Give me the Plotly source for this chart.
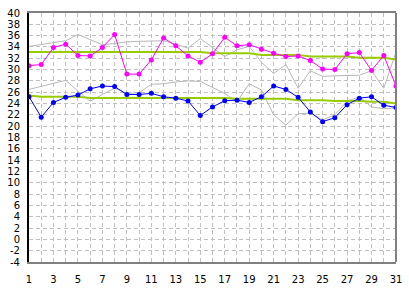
import plotly.graph_objects as go

days = list(range(1, 32))

high = [30.7, 30.9, 33.9, 34.5, 32.5, 32.4, 33.9, 36.2, 29.2, 29.2,
        31.7, 35.6, 34.2, 32.4, 31.3, 32.8, 35.7, 34.2, 34.4, 33.6,
        32.9, 32.3, 32.4, 31.6, 30.1, 30.0, 32.8, 33.0, 29.85, 32.5, 27.1]

low = [25.2, 21.6, 24.2, 25.1, 25.5, 26.6, 27.1, 27.0, 25.6, 25.6,
       25.8, 25.2, 24.95, 24.45, 21.9, 23.4, 24.5, 24.6, 24.2, 25.2,
       27.1, 26.5, 25.1, 22.5, 20.8, 21.5, 23.8, 24.95, 25.2, 23.7, 23.3]

high_normal = [33.1] * 15 + [32.9] * 4 + [32.6] * 4 + [32.3] * 4 + [32.1] * 3 + [31.8]
low_normal = [25.4] + [25.2] * 4 + [25.0] * 12 + [24.85] * 5 + [24.6] * 3 + [24.45] * 3 + [24.3] * 2 + [24.0]

gray_high = [34.1, 34.4, 34.7, 35.1, 36.2, 35.3, 34.4, 34.6, 34.9, 35.0,
             35.1, 35.1, 34.5, 33.8, 35.5, 33.9, 32.3, 33.5, 34.1, 31.3,
             29.3, 30.9, 26.7, 29.8, 28.8, 28.9, 28.9, 29.0, 29.8, 26.7, 33.1]

gray_low = [26.5, 27.0, 27.6, 28.1, 26.2, 24.4, 25.6, 26.7, 25.8, 25.9,
            27.4, 27.5, 27.8, 28.0, 27.9, 26.8, 25.8, 24.3, 27.5, 26.4,
            22.0, 20.2, 22.2, 22.3, 21.1, 22.0, 24.4, 25.2, 23.4, 23.1, 23.2]

y_ticks = list(range(-4, 41, 2))
x_ticks = list(range(1, 32, 2))

GRAY = "#c0c0c0"
fig = go.Figure()
for g in (gray_high, gray_low):
    fig.add_trace(go.Scatter(x=days, y=g, mode="lines",
                             line=dict(color="#b8b8b8", width=1), hoverinfo="skip"))
for n in (high_normal, low_normal):
    fig.add_trace(go.Scatter(x=days, y=n, mode="lines",
                             line=dict(color="#99cc00", width=2), hoverinfo="skip"))
fig.add_trace(go.Scatter(x=days, y=high, mode="lines+markers",
                         line=dict(color="#ff00ff", width=1),
                         marker=dict(color="#ff00ff", size=5, symbol="circle")))
fig.add_trace(go.Scatter(x=days, y=low, mode="lines+markers",
                         line=dict(color="#0000ff", width=1),
                         marker=dict(color="#0000ff", size=5, symbol="circle")))

fig.update_layout(
    width=409, height=292,
    margin=dict(l=28, r=9, t=7, b=22),
    paper_bgcolor="white", plot_bgcolor="white",
    showlegend=False,
    font=dict(family="DejaVu Sans", size=10, color="black"),
    xaxis=dict(range=[1, 31], tickvals=x_ticks, ticktext=[str(v) for v in x_ticks],
               showgrid=True, gridcolor=GRAY, griddash="4px,3px", gridwidth=1,
               minor=dict(dtick=1, tick0=1, showgrid=True, gridcolor=GRAY,
                          griddash="4px,3px", gridwidth=1),
               showline=True, linecolor="#808080", linewidth=2, mirror=True,
               zeroline=False, ticks="", ticklabelstandoff=7),
    yaxis=dict(range=[-4, 40], tickvals=y_ticks, ticktext=[str(v) for v in y_ticks],
               showgrid=True, gridcolor=GRAY, griddash="4px,3px", gridwidth=1,
               showline=True, linecolor="black", linewidth=2,
               zeroline=False, ticks="", ticklabelstandoff=5),
)
fig.add_shape(type="line", xref="paper", yref="paper", x0=1, x1=1, y0=0, y1=1,
              line=dict(color="#808080", width=2))

fig.write_html("out.html")
